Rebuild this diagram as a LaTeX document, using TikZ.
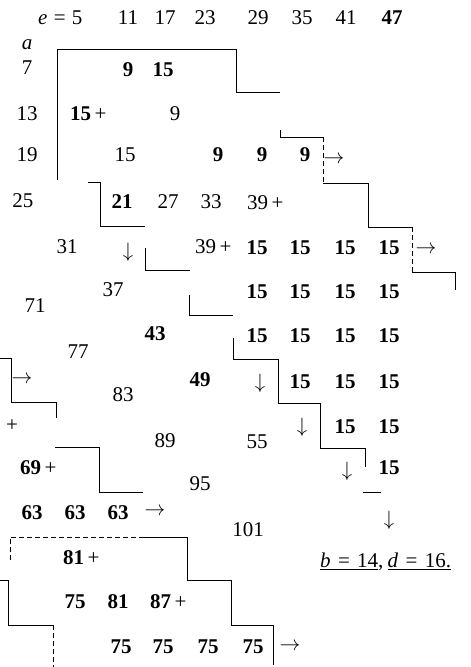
\documentclass[tikz,border=0pt]{standalone}
\usepackage{fontspec}
\setmainfont{Liberation Serif}
\usepackage{tikz}

\begin{document}
\begin{tikzpicture}[x=1pt,y=-1pt,
	every node/.style={inner sep=0pt,font=\fontsize{21}{25}\selectfont},
	hit/.style={font=\fontsize{21}{25}\selectfont\bfseries},
	stair/.style={line width=0.9pt},
	faint/.style={line width=0.9pt,dashed,dash pattern=on 5pt off 3pt}]

	\useasboundingbox (0,0) rectangle (471,667);

	% Header row (values of e)
	\node[anchor=west] (e5) at (38,18) {\textit{e}\hspace{0.3em}=\hspace{0.3em}5};
	\node (e11) at (128,18) {11};
	\node (e17) at (165,18) {17};
	\node (e23) at (205,18) {23};
	\node (e29) at (258,18) {29};
	\node (e35) at (302,18) {35};
	\node (e41) at (346,18) {41};
	\node[hit] (e47) at (392,18) {47};

	% Values of a down the diagonal
	\node (a) at (27,45) {\textit{a}};
	\node (a7) at (27,68) {7};
	\node (a13) at (27,114) {13};
	\node (a19) at (27,155) {19};
	\node (a25) at (23,201) {25};
	\node (a31) at (67,247) {31};
	\node (a37) at (113,290) {37};
	\node (a71) at (35,306) {71};
	\node[hit] (a43) at (155,334) {43};
	\node (a77) at (78,352) {77};
	\node[hit] (a49) at (200,380) {49};
	\node (a83) at (123,395) {83};
	\node (a89) at (165,441) {89};
	\node (a55) at (257,442) {55};
	\node (a95) at (200,484) {95};
	\node (a101) at (248,530) {101};

	% Row 7
	\node[hit] (r7a) at (128,70) {9};
	\node[hit] (r7b) at (163,70) {15};

	% Row 13
	\node[anchor=west] (r13a) at (70,114) {\textbf{15}\,+};
	\node (r13b) at (175,114) {9};

	% Row 19
	\node (r19a) at (125,155) {15};
	\node[hit] (r19b) at (218,155) {9};
	\node[hit] (r19c) at (262,155) {9};
	\node[hit] (r19d) at (305,155) {9};
	\node (r19e) at (334,160) {$\rightarrow$};

	% Row 25
	\node[hit] (r25a) at (122,202) {21};
	\node (r25b) at (168,202) {27};
	\node (r25c) at (211,202) {33};
	\node[anchor=west] (r25d) at (247,203) {39\,+};

	% Row 31
	\node (r31a) at (128,252) {$\downarrow$};
	\node[anchor=west] (r31b) at (195,247) {39\,+};
	\node[hit] (r31c) at (257,248) {15};
	\node[hit] (r31d) at (300,248) {15};
	\node[hit] (r31e) at (345,248) {15};
	\node[hit] (r31f) at (389,248) {15};
	\node (r31g) at (426,250) {$\rightarrow$};

	% Row 37
	\node[hit] (r37a) at (257,292) {15};
	\node[hit] (r37b) at (300,292) {15};
	\node[hit] (r37c) at (345,292) {15};
	\node[hit] (r37d) at (389,292) {15};

	% Row 43
	\node[hit] (r43a) at (257,336) {15};
	\node[hit] (r43b) at (300,336) {15};
	\node[hit] (r43c) at (345,336) {15};
	\node[hit] (r43d) at (389,336) {15};

	% Row 49
	\node (r49a) at (260,383) {$\downarrow$};
	\node[hit] (r49b) at (300,382) {15};
	\node[hit] (r49c) at (345,382) {15};
	\node[hit] (r49d) at (389,382) {15};

	% Row 55
	\node (r55a) at (302,427) {$\downarrow$};
	\node[hit] (r55b) at (345,427) {15};
	\node[hit] (r55c) at (389,427) {15};

	% Row 61
	\node (r61a) at (347,471) {$\downarrow$};
	\node[hit] (r61b) at (389,468) {15};
	\node (r67a) at (389,520) {$\downarrow$};

	% Left part (a = 71, 77, ...)
	\node (l1) at (22,380) {$\rightarrow$};
	\node (l2) at (12,426) {+};
	\node[anchor=west] (l3) at (20,468) {\textbf{69}\,+};
	\node[hit] (l4) at (32,513) {63};
	\node[hit] (l5) at (75,513) {63};
	\node[hit] (l6) at (118,513) {63};
	\node (l7) at (155,512) {$\rightarrow$};
	\node[anchor=west] (l8) at (63,558) {\textbf{81}\,+};
	\node[hit] (l9) at (75,602) {75};
	\node[hit] (l10) at (118,602) {81};
	\node[anchor=west] (l11) at (150,602) {\textbf{87}\,+};
	\node[hit] (l12) at (121,647) {75};
	\node[hit] (l13) at (163,647) {75};
	\node[hit] (l14) at (208,647) {75};
	\node[hit] (l15) at (253,647) {75};
	\node (l16) at (290,647) {$\rightarrow$};

	% Result
	\node[anchor=west] (res) at (320,562) {\underline{\textit{b}\hspace{0.35em}=\hspace{0.35em}14},\hspace{0.2em}\underline{\textit{d}\hspace{0.35em}=\hspace{0.35em}16.}};

	% Staircase boundaries
	\draw[stair] (57,180) -- (57,49) -- (236,49) -- (236,92) -- (280,92);
	\draw[stair] (280,130) -- (280,137) -- (323,137);
	\draw[faint] (323,137) -- (323,183);
	\draw[stair] (323,183) -- (368,183) -- (368,227) -- (412,227);
	\draw[faint] (412,227) -- (412,272);
	\draw[stair] (412,272) -- (455,272) -- (455,290);
	\draw[stair] (88,182) -- (100,182) -- (100,226) -- (145,226);
	\draw[stair] (145,248) -- (145,270) -- (190,270);
	\draw[stair] (189,295) -- (189,315) -- (233,315);
	\draw[stair] (233,338) -- (233,359) -- (278,359) -- (278,403) -- (320,403)
		-- (320,448) -- (365,448) -- (365,467);
	\draw[stair] (363,492) -- (381,492);
	\draw[stair] (0,358) -- (11,358) -- (11,402) -- (56,402) -- (56,418);
	\draw[stair] (55,447) -- (99,447) -- (99,492) -- (143,492);
	\draw[faint] (10,560) -- (10,537) -- (143,537);
	\draw[stair] (143,537) -- (187,537) -- (187,580) -- (231,580) -- (231,625)
		-- (273,625) -- (273,665);
	\draw[stair] (0,580) -- (8,580) -- (8,625) -- (53,625);
	\draw[faint] (53,625) -- (53,667);

\end{tikzpicture}
\end{document}
